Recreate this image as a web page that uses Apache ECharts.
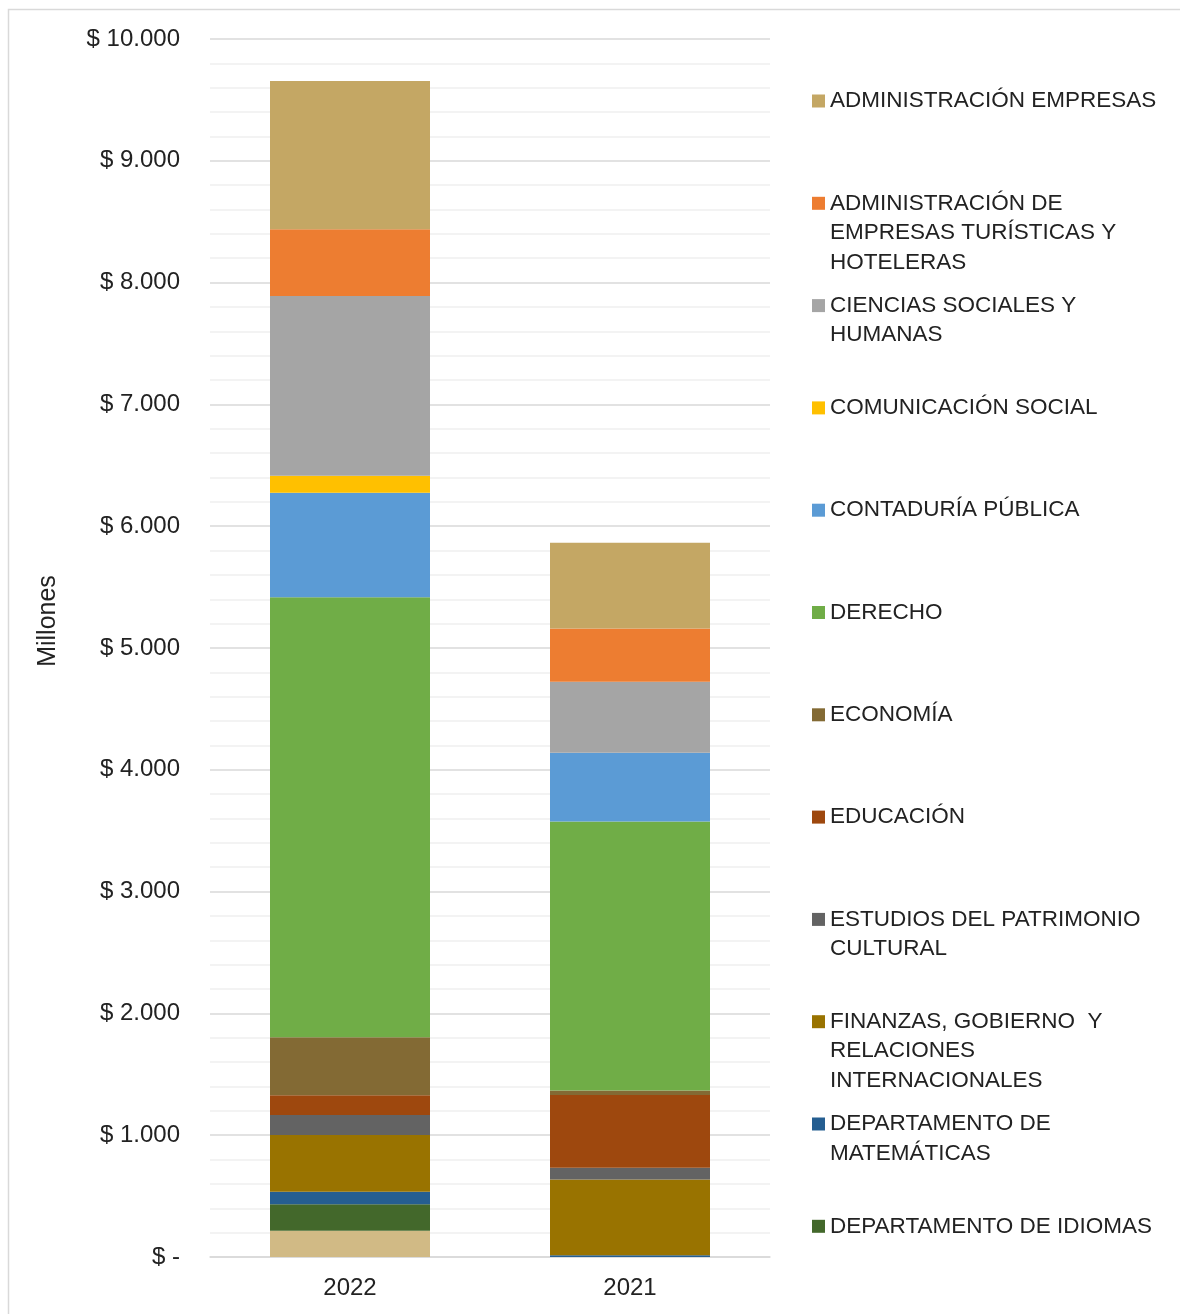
<!DOCTYPE html>
<html>
<head>
<meta charset="utf-8">
<script src="https://cdn.jsdelivr.net/npm/echarts@6/dist/echarts.min.js"></script>
<style>
  html, body { margin: 0; padding: 0; background: #fff; }
  #chart { width: 1180px; height: 1314px; }
</style>
</head>
<body>
<div id="chart"></div>
<script>
var chart = echarts.init(document.getElementById('chart'));

// años (categorías)
var anios = ['2022', '2021'];

// valores en millones, apilados de abajo hacia arriba
var otros = [216, 0];            // segmento inferior sin leyenda visible
var idiomas = [217, 0];
var matematicas = [103, 15];
var finanzas = [466, 621];
var patrimonio = [164, 96];
var educacion = [162, 599];
var economia = [476, 35];
var derecho = [3612, 2209];
var contaduria = [859, 564];
var comunicacion = [140, 0];
var cienciasSociales = [1475, 583];
var admTuristicas = [548, 438];
var admEmpresas = [1218, 704];

// ticks del eje y
var ticksY = [0, 1000, 2000, 3000, 4000, 5000, 6000, 7000, 8000, 9000, 10000];

// series (nombre, datos, color, texto de leyenda)
var programas = [
  { name: 'OTROS', data: otros, color: '#D1BA85', label: null },
  { name: 'DEPARTAMENTO DE IDIOMAS', data: idiomas, color: '#43682B', label: 'DEPARTAMENTO DE IDIOMAS' },
  { name: 'DEPARTAMENTO DE MATEMÁTICAS', data: matematicas, color: '#255E91', label: 'DEPARTAMENTO DE\nMATEMÁTICAS' },
  { name: 'FINANZAS, GOBIERNO  Y RELACIONES INTERNACIONALES', data: finanzas, color: '#997300', label: 'FINANZAS, GOBIERNO  Y\nRELACIONES\nINTERNACIONALES' },
  { name: 'ESTUDIOS DEL PATRIMONIO CULTURAL', data: patrimonio, color: '#636363', label: 'ESTUDIOS DEL PATRIMONIO\nCULTURAL' },
  { name: 'EDUCACIÓN', data: educacion, color: '#9E480E', label: 'EDUCACIÓN' },
  { name: 'ECONOMÍA', data: economia, color: '#836A34', label: 'ECONOMÍA' },
  { name: 'DERECHO', data: derecho, color: '#70AD47', label: 'DERECHO' },
  { name: 'CONTADURÍA PÚBLICA', data: contaduria, color: '#5B9BD5', label: 'CONTADURÍA PÚBLICA' },
  { name: 'COMUNICACIÓN SOCIAL', data: comunicacion, color: '#FFC000', label: 'COMUNICACIÓN SOCIAL' },
  { name: 'CIENCIAS SOCIALES Y HUMANAS', data: cienciasSociales, color: '#A5A5A5', label: 'CIENCIAS SOCIALES Y\nHUMANAS' },
  { name: 'ADMINISTRACIÓN DE EMPRESAS TURÍSTICAS Y HOTELERAS', data: admTuristicas, color: '#ED7D31', label: 'ADMINISTRACIÓN DE\nEMPRESAS TURÍSTICAS Y\nHOTELERAS' },
  { name: 'ADMINISTRACIÓN EMPRESAS', data: admEmpresas, color: '#C4A764', label: 'ADMINISTRACIÓN EMPRESAS' }
];

var fuente = '"Liberation Sans", Arial, sans-serif';
var lh = 29.5;

// una leyenda por programa, de arriba hacia abajo.
// Se anteponen líneas vacías para que el icono quede a la altura de la primera línea.
var enLeyenda = programas.filter(function (p) { return p.label; }).reverse();
var leyendas = enLeyenda.map(function (p, i) {
  var n = p.label.split('\n').length;
  var texto = new Array(n).join(' \n') + p.label;
  var centro = 101 + i * 102.3;
  return {
    data: [p.name],
    left: 812,
    top: centro - (2 * n - 1) * lh / 2,
    padding: 0,
    itemWidth: 13,
    itemHeight: 13,
    icon: 'rect',
    selectedMode: false,
    formatter: function () { return texto; },
    textStyle: { fontFamily: fuente, fontSize: 22.5, color: '#222', lineHeight: lh }
  };
});

var option = {
  backgroundColor: '#fff',
  animation: false,
  grid: { left: 210, right: 410, top: 39, bottom: 57 },
  legend: leyendas,
  xAxis: {
    type: 'category',
    data: anios,
    axisLine: { lineStyle: { color: '#d9d9d9', width: 1.5 } },
    axisTick: { show: false },
    axisLabel: { fontFamily: fuente, fontSize: 24, color: '#222', margin: 19 }
  },
  yAxis: {
    type: 'value',
    min: ticksY[0],
    max: ticksY[ticksY.length - 1],
    interval: 1000,
    axisLine: { show: false },
    axisTick: { show: false },
    splitLine: { lineStyle: { color: '#d9d9d9', width: 1.5 } },
    minorTick: { show: false, splitNumber: 5 },
    minorSplitLine: { show: true, lineStyle: { color: '#efefef', width: 1.5 } },
    axisLabel: {
      fontFamily: fuente, fontSize: 24, color: '#222', margin: 30,
      formatter: function (v) {
        if (v === 0) return '$ -';
        return '$ ' + String(v).replace(/\B(?=(\d{3})+(?!\d))/g, '.');
      }
    }
  },
  graphic: [
    { type: 'rect', shape: { x: 8.5, y: 9.5, width: 1200, height: 1320 },
      style: { fill: 'none', stroke: '#d9d9d9', lineWidth: 1.5 }, silent: true },
    { type: 'text', x: 48, y: 621, rotation: Math.PI / 2,
      style: { text: 'Millones', fontFamily: fuente, fontSize: 25, fill: '#222',
               align: 'center', verticalAlign: 'middle' } }
  ],
  series: programas.map(function (p) {
    return {
      name: p.name,
      type: 'bar',
      stack: 'total',
      data: p.data,
      barWidth: 160,
      itemStyle: { color: p.color },
      emphasis: { disabled: true }
    };
  })
};

chart.setOption(option);
</script>
</body>
</html>
